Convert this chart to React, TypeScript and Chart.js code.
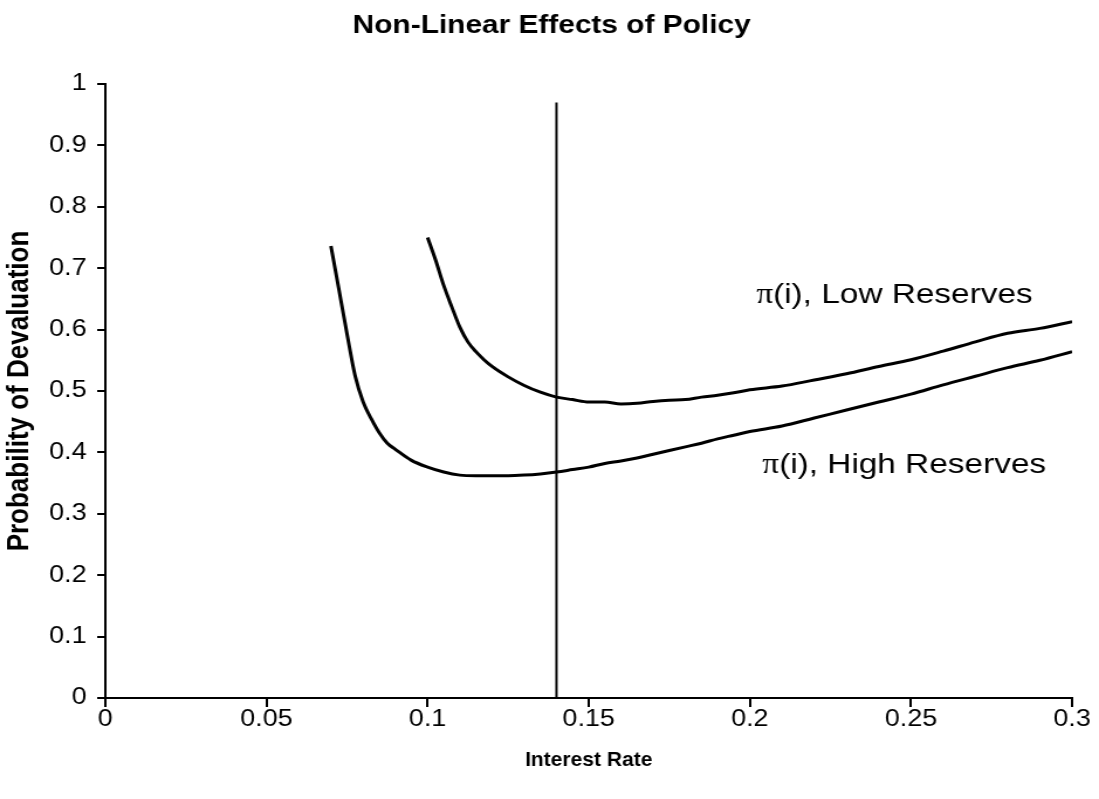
import React, { useEffect, useRef } from "react";
import { Chart, registerables } from "chart.js";

Chart.register(...registerables);

// ---- Data ----
const highX = [0.07, 0.0725, 0.075, 0.0775, 0.08, 0.0825, 0.085, 0.0875, 0.09, 0.095, 0.1, 0.105, 0.11, 0.115, 0.12, 0.125, 0.13, 0.135, 0.14, 0.145, 0.15, 0.155, 0.16, 0.165, 0.17, 0.175, 0.18, 0.185, 0.19, 0.195, 0.2, 0.21, 0.22, 0.23, 0.24, 0.25, 0.26, 0.27, 0.28, 0.29, 0.3];
const highY = [0.736, 0.665, 0.593, 0.525, 0.482, 0.455, 0.432, 0.415, 0.405, 0.387, 0.376, 0.368, 0.363, 0.362, 0.362, 0.362, 0.363, 0.365, 0.368, 0.372, 0.376, 0.382, 0.386, 0.391, 0.397, 0.403, 0.409, 0.415, 0.422, 0.428, 0.434, 0.443, 0.456, 0.469, 0.482, 0.495, 0.51, 0.524, 0.538, 0.55, 0.564];

const lowX = [0.1, 0.1025, 0.105, 0.1075, 0.11, 0.1125, 0.115, 0.1175, 0.12, 0.125, 0.13, 0.135, 0.14, 0.145, 0.15, 0.155, 0.16, 0.165, 0.17, 0.175, 0.18, 0.185, 0.19, 0.195, 0.2, 0.21, 0.22, 0.23, 0.24, 0.25, 0.26, 0.27, 0.28, 0.29, 0.3];
const lowY = [0.75, 0.713, 0.672, 0.637, 0.604, 0.58, 0.564, 0.551, 0.54, 0.523, 0.509, 0.498, 0.49, 0.486, 0.482, 0.482, 0.479, 0.48, 0.483, 0.485, 0.486, 0.49, 0.493, 0.497, 0.502, 0.508, 0.518, 0.528, 0.54, 0.551, 0.565, 0.58, 0.594, 0.602, 0.613];

const policyRateX = [0.14, 0.14];
const policyRateY = [0, 0.97];

const xTickValues = [0, 0.05, 0.1, 0.15, 0.2, 0.25, 0.3];
const xTickLabels = ["0", "0.05", "0.1", "0.15", "0.2", "0.25", "0.3"];
const yTickValues = [0, 0.1, 0.2, 0.3, 0.4, 0.5, 0.6, 0.7, 0.8, 0.9, 1];
const yTickLabels = ["0", "0.1", "0.2", "0.3", "0.4", "0.5", "0.6", "0.7", "0.8", "0.9", "1"];

const chartTitle = "Non-Linear Effects of Policy";
const xTitle = "Interest Rate";
const yTitle = "Probability of Devaluation";
const lowLabel = "(i), Low Reserves";
const highLabel = "(i), High Reserves";
const piChar = "π";

// ---- Layout ----
const SX = 1.17; // horizontal stretch of the reference picture
const CSS_W = 1099;
const CSS_H = 799;
const W = Math.round(CSS_W / SX);
const H = CSS_H;
const SANS = "'Liberation Sans', Arial, sans-serif";
const SERIF = "'Liberation Serif', 'Times New Roman', serif";

const toPoints = (xs: number[], ys: number[]) => xs.map((x, i) => ({ x, y: ys[i] }));

const textPlugin = {
  id: "textPlugin",
  afterDraw(chart: any) {
    const ctx = chart.ctx;
    ctx.save();
    ctx.fillStyle = "#000";
    ctx.textBaseline = "alphabetic";
    // main title
    ctx.font = `bold 25.5px ${SANS}`;
    ctx.textAlign = "center";
    ctx.fillText(chartTitle, 551.5 / SX, 33);
    // x-axis title (not stretched in the reference)
    const xs = chart.scales.x;
    ctx.save();
    ctx.translate((xs.left + xs.right) / 2, 765.5);
    ctx.scale(1 / SX, 1);
    ctx.font = `bold 21px ${SANS}`;
    ctx.textAlign = "center";
    ctx.fillText(xTitle, 0, 0);
    ctx.restore();
    // curve labels
    const drawLabel = (text: string, xCss: number, y: number) => {
      ctx.textAlign = "left";
      ctx.font = `28.5px ${SERIF}`;
      const x0 = xCss / SX;
      ctx.fillText(piChar, x0, y);
      const w = ctx.measureText(piChar).width;
      ctx.font = `28.5px ${SANS}`;
      ctx.fillText(text, x0 + w, y);
    };
    drawLabel(lowLabel, 756, 303);
    drawLabel(highLabel, 762, 473);
    ctx.restore();
  },
};

export default function App() {
  const ref = useRef<HTMLCanvasElement | null>(null);
  useEffect(() => {
    if (!ref.current) return;
    const lineCommon = {
      showLine: true,
      pointRadius: 0,
      borderColor: "#000",
      backgroundColor: "#000",
      fill: false,
    };
    const chart = new Chart(ref.current, {
      type: "scatter",
      data: {
        datasets: [
          { ...lineCommon, data: toPoints(lowX, lowY), borderWidth: 3, cubicInterpolationMode: "monotone" },
          { ...lineCommon, data: toPoints(highX, highY), borderWidth: 3, cubicInterpolationMode: "monotone" },
          { ...lineCommon, data: toPoints(policyRateX, policyRateY), borderWidth: 2 },
        ],
      } as any,
      options: {
        animation: false,
        responsive: false,
        devicePixelRatio: 1,
        layout: { padding: { top: 84, right: 23, left: 0, bottom: 0 } },
        plugins: {
          legend: { display: false },
          tooltip: { enabled: false },
          title: { display: false },
        },
        scales: {
          x: {
            type: "linear",
            min: 0,
            max: 0.3,
            afterBuildTicks: (scale: any) => {
              scale.ticks = xTickValues.map((v) => ({ value: v }));
            },
            afterFit: (scale: any) => {
              scale.height = 101;
            },
            ticks: {
              autoSkip: false,
              maxRotation: 0,
              color: "#000",
              padding: -1,
              font: { family: SANS, size: 23 },
              callback: (_v: any, i: number) => xTickLabels[i],
            },
            grid: {
              drawOnChartArea: false,
              drawTicks: true,
              tickLength: 9,
              color: "#000",
              lineWidth: 2,
            },
            border: { display: true, color: "#000", width: 2 },
            title: { display: false },
          },
          y: {
            type: "linear",
            min: 0,
            max: 1,
            afterBuildTicks: (scale: any) => {
              scale.ticks = yTickValues.map((v) => ({ value: v }));
            },
            afterFit: (scale: any) => {
              scale.width = 90;
            },
            ticks: {
              autoSkip: false,
              color: "#000",
              padding: 9,
              font: { family: SANS, size: 23 },
              callback: (_v: any, i: number) => yTickLabels[i],
            },
            grid: {
              drawOnChartArea: false,
              drawTicks: true,
              tickLength: 7,
              color: "#000",
              lineWidth: 2,
            },
            border: { display: true, color: "#000", width: 2 },
            title: {
              display: true,
              text: yTitle,
              color: "#000",
              font: { family: SANS, size: 26, weight: "bold" },
              padding: { top: 1.5, bottom: 0 },
            },
          },
        },
      } as any,
      plugins: [textPlugin],
    });
    return () => chart.destroy();
  }, []);

  return (
    <div style={{ position: "fixed", left: 0, top: 0, width: CSS_W, height: CSS_H, background: "#fff" }}>
      <canvas
        ref={ref}
        width={W}
        height={H}
        style={{ width: `${CSS_W}px`, height: `${CSS_H}px`, display: "block" }}
      />
    </div>
  );
}
